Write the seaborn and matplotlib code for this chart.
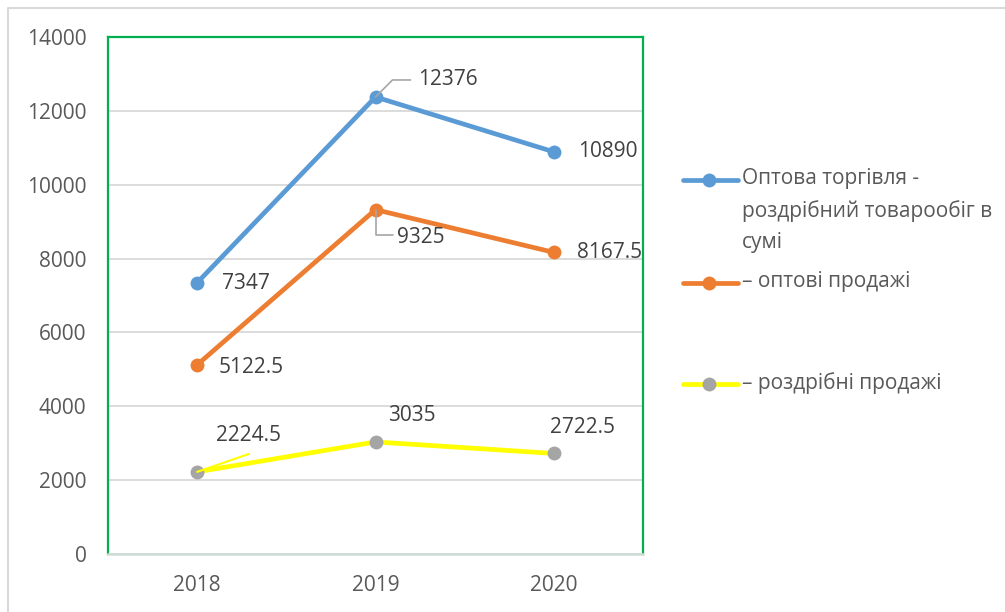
import pandas as pd
import matplotlib
matplotlib.use("Agg")
import matplotlib.pyplot as plt
from matplotlib.lines import Line2D
import seaborn as sns

# --- DATA ---
years = ["2018", "2019", "2020"]
total_turnover = [7347, 12376, 10890]
wholesale = [5122.5, 9325, 8167.5]
retail = [2224.5, 3035, 2722.5]
series_names = [
    "Оптова торгівля -\nроздрібний товарообіг в\nсумі",
    "– оптові продажі",
    "– роздрібні продажі",
]
y_ticks = [0, 2000, 4000, 6000, 8000, 10000, 12000, 14000]

LINE_COLORS = ["#5b9bd5", "#ed7d31", "#ffff00"]
MARKER_COLORS = ["#5b9bd5", "#ed7d31", "#a5a5a5"]
TEXT_DARK = "#404040"
TEXT_TICK = "#595959"
FS = 15

sns.set_theme(style="white")
plt.rcParams["font.family"] = ["Open Sans", "DejaVu Sans"]

# long-form table for seaborn
rows = []
for name, vals in zip(series_names, [total_turnover, wholesale, retail]):
    for i, v in enumerate(vals):
        rows.append({"x": i, "value": v, "series": name})
df = pd.DataFrame(rows)

fig = plt.figure(figsize=(10.05, 6.12), dpi=100)
ax = fig.add_axes([108 / 1005, 1 - 554 / 612, (643 - 108) / 1005, (554 - 37) / 612])

sns.lineplot(data=df, x="x", y="value", hue="series", palette=LINE_COLORS,
             marker="o", markersize=10, linewidth=3.4, markeredgewidth=0,
             legend=False, ax=ax)
for line, mc in zip(ax.get_lines(), MARKER_COLORS):
    line.set_markerfacecolor(mc)
    line.set_markeredgecolor(mc)
    line.set_solid_capstyle("round")

ax.set_xlim(-0.5, 2.5)
ax.set_ylim(0, 14000)
ax.set_xticks(range(len(years)))
ax.set_xticklabels(years)
ax.set_yticks(y_ticks)
ax.set_xlabel("")
ax.set_ylabel("")
ax.tick_params(axis="both", length=0, labelsize=FS, colors=TEXT_TICK)
ax.tick_params(axis="y", pad=15.5)
ax.tick_params(axis="x", pad=15)
ax.grid(axis="y", color="#d9d9d9", linewidth=1.3)
ax.set_axisbelow(True)
for side in ["left", "top", "right"]:
    ax.spines[side].set_color("#00b050")
    ax.spines[side].set_linewidth(1.6)
ax.spines["bottom"].set_color("#cfdcd6")
ax.spines["bottom"].set_linewidth(1.8)

# data labels (offsets in pixels)
label_kw = dict(textcoords="offset pixels", fontsize=FS, color=TEXT_DARK, va="center")
gray_leader = dict(arrowstyle="-", color="#a6a6a6", lw=1.2, shrinkA=0, shrinkB=0)

ax.annotate(f"{total_turnover[0]:g}", (0, total_turnover[0]), xytext=(25, -1), ha="left", **label_kw)
ax.annotate(f"{total_turnover[1]:g}", (1, total_turnover[1]), xytext=(43, 17), ha="left", **label_kw)
ax.annotate("", (1, total_turnover[1]), xytext=(35, 17), textcoords="offset pixels",
            arrowprops=dict(gray_leader, connectionstyle="angle,angleA=0,angleB=45,rad=0"))
ax.annotate(f"{total_turnover[2]:g}", (2, total_turnover[2]), xytext=(24, 0), ha="left", **label_kw)

ax.annotate(f"{wholesale[0]:g}", (0, wholesale[0]), xytext=(21, -3), ha="left", **label_kw)
ax.annotate(f"{wholesale[1]:g}", (1, wholesale[1]), xytext=(21, -28), ha="left", **label_kw)
ax.annotate("", (1, wholesale[1]), xytext=(17, -25), textcoords="offset pixels",
            arrowprops=dict(gray_leader, connectionstyle="angle,angleA=0,angleB=90,rad=0"))
ax.annotate(f"{wholesale[2]:g}", (2, wholesale[2]), xytext=(23, 0), ha="left", **label_kw)

ax.annotate(f"{retail[0]:g}", (0, retail[0]), xytext=(19, 36), ha="left", **label_kw)
ax.annotate("", (0, retail[0]), xytext=(52, 18), textcoords="offset pixels",
            arrowprops=dict(arrowstyle="-", color="#ffff00", lw=1.5, shrinkA=0, shrinkB=0))
ax.annotate(f"{retail[1]:g}", (1, retail[1]), xytext=(36, 26), ha="center", **label_kw)
ax.annotate(f"{retail[2]:g}", (2, retail[2]), xytext=(29, 26), ha="center", **label_kw)

# legend drawn by hand to keep Excel-like spacing
W, H = 1005, 612
legend_y = [180, 283, 384]
for name, lc, mc, yy in zip(series_names, LINE_COLORS, MARKER_COLORS, legend_y):
    fy = 1 - yy / H
    fig.add_artist(Line2D([683 / W, 738 / W], [fy, fy], color=lc, lw=3.4,
                          solid_capstyle="round", transform=fig.transFigure))
    fig.add_artist(Line2D([709 / W], [fy], marker="o", markersize=10, markeredgewidth=0,
                          markerfacecolor=mc, color=mc, transform=fig.transFigure))
    fig.text(742 / W, fy + 12 / H, name, fontsize=FS, color=TEXT_TICK,
             ha="left", va="top", linespacing=1.65)

# outer chart frame (top and left visible)
fig.add_artist(Line2D([8 / W, 8 / W, 1], [0, 1 - 8 / H, 1 - 8 / H], color="#d9d9d9",
                      lw=1.5, transform=fig.transFigure))

fig.savefig("out.png", dpi=100)
